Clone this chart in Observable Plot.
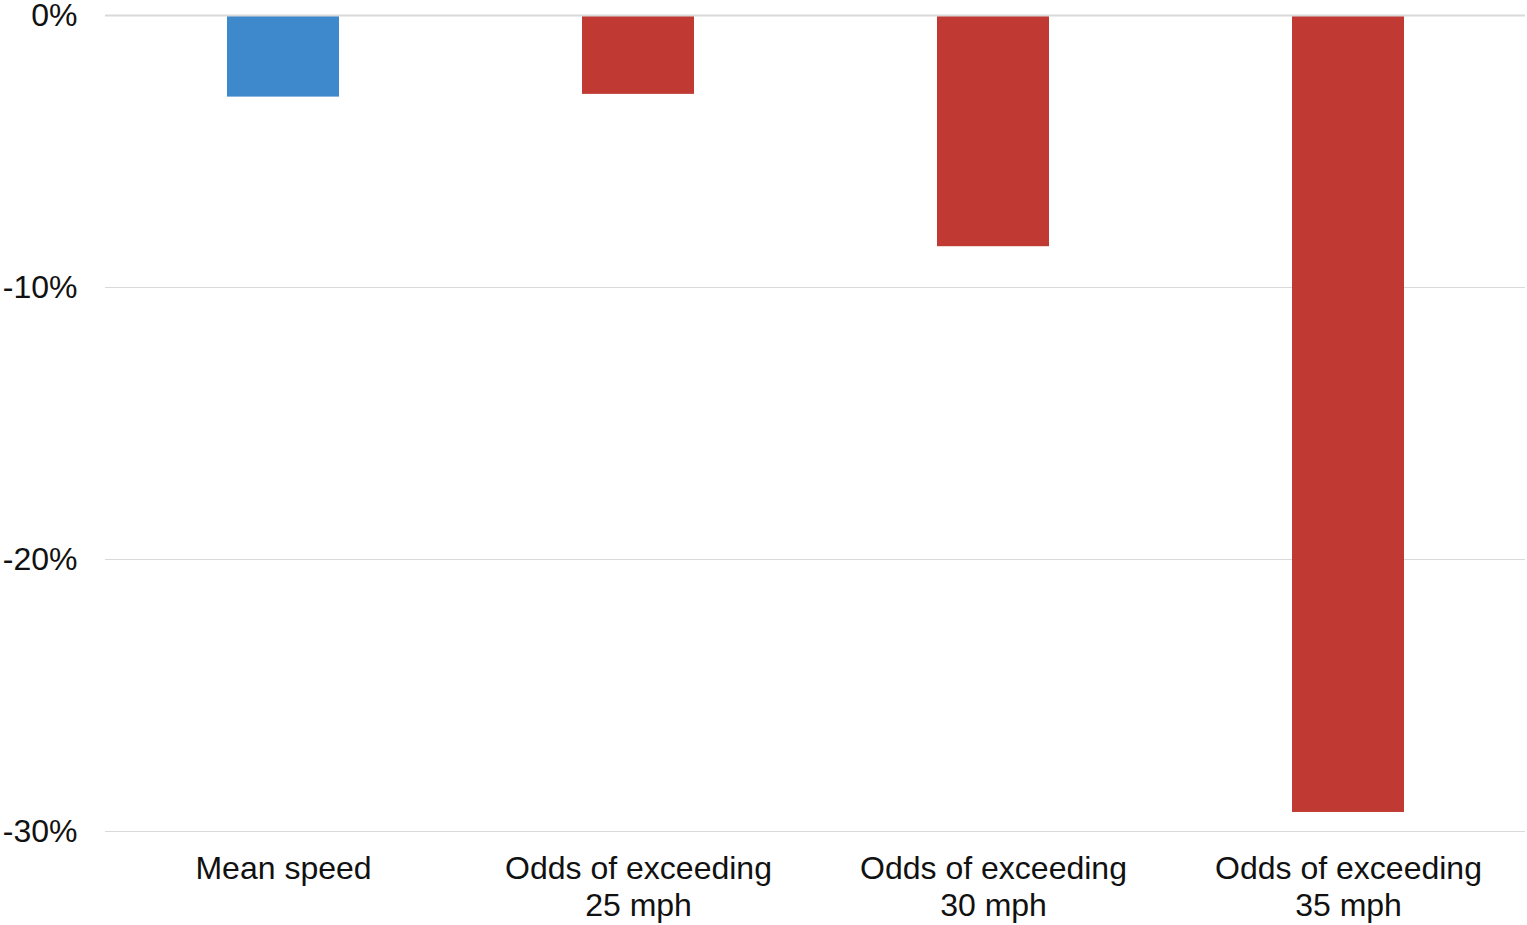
<!DOCTYPE html>
<html>
<head>
<meta charset="utf-8">
<script src="https://cdn.jsdelivr.net/npm/d3@7"></script>
<script src="https://cdn.jsdelivr.net/npm/@observablehq/plot@0.6"></script>
<style>
  html, body { margin: 0; padding: 0; background: #fff; }
  #chart svg { display: block; overflow: visible; }
</style>
</head>
<body>
<div id="chart"></div>
<script>
// Change in speed measures (percent)
const categories = ["Mean speed", "Odds of exceeding 25 mph", "Odds of exceeding 30 mph", "Odds of exceeding 35 mph"];
const axisLabels = ["Mean speed", "Odds of exceeding\n25 mph", "Odds of exceeding\n30 mph", "Odds of exceeding\n35 mph"];
const values = [-3.0, -2.9, -8.5, -29.3];
const barColors = ["#3e89cc", "#c03a33", "#c03a33", "#c03a33"];
const yTicks = [0, -10, -20, -30];

const data = categories.map((c, i) => ({ category: c, value: values[i], color: barColors[i] }));
const labelOf = new Map(categories.map((c, i) => [c, axisLabels[i]]));

const chart = Plot.plot({
  width: 1527,
  height: 925,
  marginTop: 15,
  marginBottom: 94,
  marginLeft: 105,
  marginRight: 2,
  style: { fontFamily: "'Liberation Sans', Arial, sans-serif", background: "#fff", overflow: "visible" },
  x: { domain: categories, paddingInner: 0.685, paddingOuter: 0.3425 },
  y: { domain: [-30, 0] },
  marks: [
    Plot.ruleY(yTicks.filter(d => d !== 0), { stroke: "#d9d9d9", strokeWidth: 1 }),
    Plot.barY(data, { x: "category", y: "value", fill: "color" }),
    Plot.ruleY([0], { stroke: "#d9d9d9", strokeWidth: 2 }),
    Plot.axisY({
      ticks: yTicks,
      tickFormat: d => `${d}%`,
      tickSize: 0,
      tickPadding: 28,
      fontSize: 32,
      fill: "#111",
      label: null
    }),
    Plot.axisX({
      tickFormat: d => labelOf.get(d),
      tickSize: 0,
      tickPadding: 21,
      fontSize: 32,
      lineHeight: 1.16,
      fill: "#111",
      label: null
    })
  ]
});

document.getElementById("chart").appendChild(chart);
</script>
</body>
</html>
